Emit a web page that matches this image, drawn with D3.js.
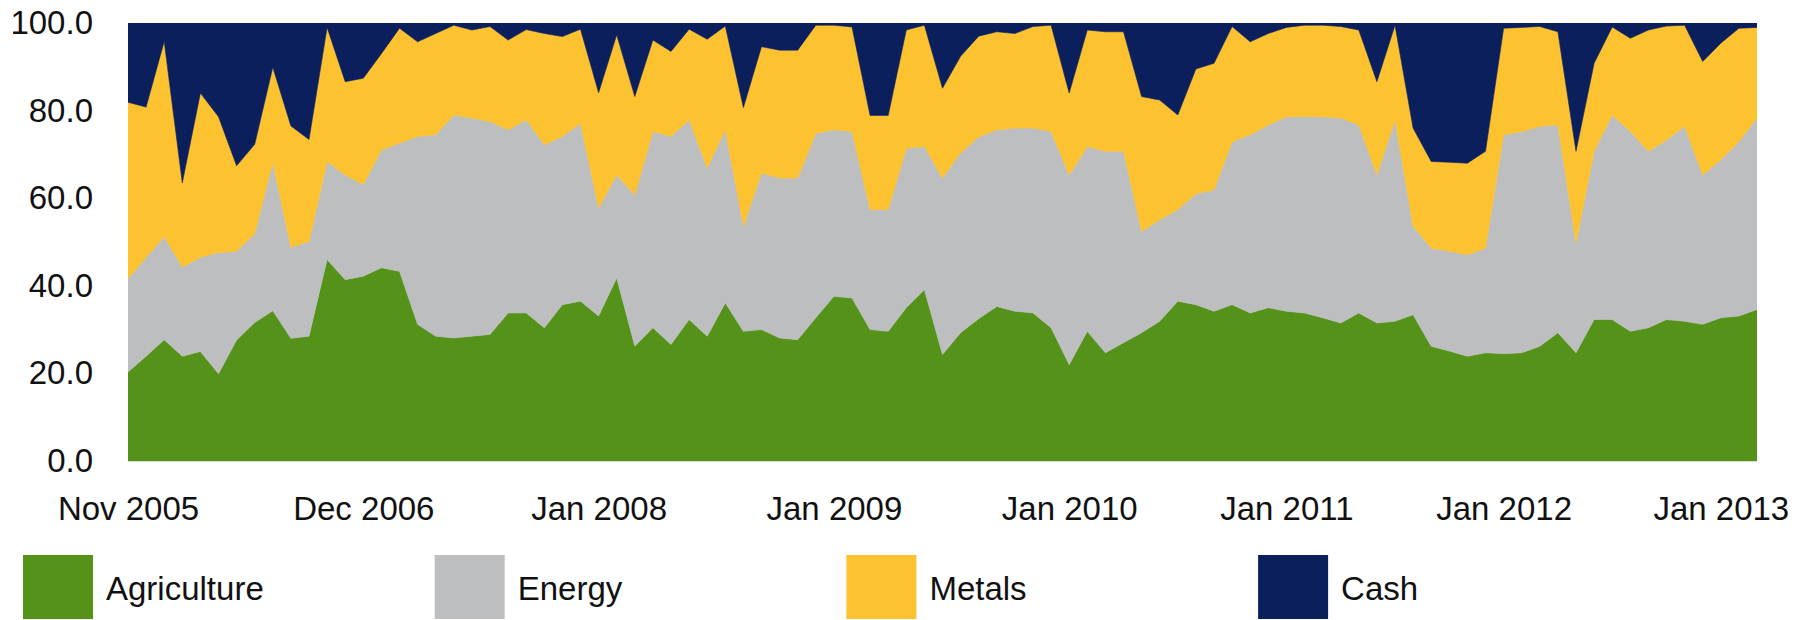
<!DOCTYPE html>
<html>
<head>
<meta charset="utf-8">
<script src="https://cdn.jsdelivr.net/npm/d3@7"></script>
<style>
  html, body { margin: 0; padding: 0; background: #ffffff; }
  svg { display: block; }
  text { font-family: "Liberation Sans", Arial, sans-serif; fill: #111111; }
</style>
</head>
<body>
<svg id="chart" width="1813" height="620"></svg>
<script>
// ---- Data (percent allocation) ----
const seriesNames = ["Agriculture", "Energy", "Metals", "Cash"];

const agriculture = [20.3,23.9,27.7,23.9,25.0,19.9,27.6,31.6,34.3,28.0,28.5,46.0,41.4,42.2,44.1,43.3,31.2,28.5,28.1,28.5,
  28.9,33.8,33.8,30.4,35.7,36.5,33.1,41.8,26.2,30.4,26.6,32.3,28.5,36.1,29.6,30.0,28.1,27.7,32.7,37.6,
  37.2,30.0,29.6,35.0,39.1,24.3,29.3,32.5,35.3,34.2,33.8,30.4,22.0,29.6,24.7,27.0,29.3,31.9,36.5,35.7,
  34.2,35.7,33.8,35.0,34.2,33.8,32.7,31.5,33.8,31.5,31.9,33.4,26.2,25.1,23.9,24.7,24.5,24.7,26.2,29.3,
  24.7,32.3,32.3,29.6,30.4,32.3,31.9,31.2,32.7,33.1,34.6];

const energy = [21.3,22.6,23.5,20.4,21.5,27.7,20.3,20.3,33.9,20.8,21.6,22.4,23.9,20.9,26.9,29.3,42.9,46.0,50.9,49.8,
  48.6,41.8,44.1,41.8,38.4,40.6,24.7,23.5,34.6,44.8,47.5,45.6,38.4,39.5,24.0,35.7,36.5,36.9,42.1,38.0,
  38.0,27.4,27.8,36.4,32.7,40.3,41.0,41.5,40.3,41.8,42.2,44.8,43.3,42.2,46.0,43.7,23.1,23.2,20.9,25.3,
  27.7,37.2,40.7,41.7,44.4,44.8,45.9,46.8,42.9,33.8,46.0,20.2,22.4,22.8,23.2,23.9,50.0,50.5,50.2,47.4,
  25.1,38.4,46.7,45.6,40.3,41.0,44.5,34.1,36.1,39.8,43.7];

const metals = [40.3,34.3,44.6,19.2,37.5,31.0,19.5,20.4,21.7,27.7,23.3,30.6,21.3,24.3,22.0,26.2,21.6,23.1,20.5,20.1,
  21.7,20.5,20.6,25.4,22.8,21.5,26.3,32.0,22.4,20.9,19.4,20.7,29.4,23.7,27.1,28.9,29.2,29.2,24.7,23.9,
  23.9,21.5,21.5,27.0,27.7,20.5,22.1,23.0,22.4,21.6,23.2,24.3,18.7,26.6,27.3,27.3,30.8,27.3,21.6,28.5,
  28.9,26.3,21.2,20.9,20.4,20.9,20.9,20.9,21.7,21.3,21.6,22.4,19.8,20.3,20.9,22.1,24.3,23.8,22.8,21.3,
  20.9,20.1,20.1,21.3,27.7,26.0,23.1,25.9,26.6,25.9,20.7];

const cash = [18.1,19.2,4.2,36.5,16.0,21.4,32.6,27.7,10.1,23.5,26.6,1.0,13.4,12.6,7.0,1.2,4.3,2.4,0.5,1.6,
  0.8,3.9,1.5,2.4,3.1,1.4,15.9,2.7,16.8,3.9,6.5,1.4,3.7,0.7,19.3,5.4,6.2,6.2,0.5,0.5,
  0.9,21.1,21.1,1.6,0.5,14.9,7.6,3.0,2.0,2.4,0.8,0.5,16.0,1.6,2.0,2.0,16.8,17.6,21.0,10.5,
  9.2,0.8,4.3,2.4,1.0,0.5,0.5,0.8,1.6,13.4,0.5,24.0,31.6,31.8,32.0,29.3,1.2,1.0,0.8,2.0,
  29.3,9.2,0.9,3.5,1.6,0.7,0.5,8.8,4.6,1.2,1.0];

// x-axis labels and the observation index each one sits on
const tickLabels = ["Nov 2005", "Dec 2006", "Jan 2008", "Jan 2009", "Jan 2010", "Jan 2011", "Jan 2012", "Jan 2013"];
const tickIndex  = [0, 13, 26, 39, 52, 64, 76, 88];
const yTicks = [0, 20, 40, 60, 80, 100];

// ---- Styles / layout ----
const colors = { Agriculture: "#55921a", Energy: "#bcbec0", Metals: "#fcc230", Cash: "#0b1f5c" };
const margin = { left: 128, right: 56, top: 23, bottom: 159 };
const W = 1813, H = 620;
const plotW = W - margin.left - margin.right;
const plotH = H - margin.top - margin.bottom;
const fontSize = 33;

const rows = agriculture.map((v, i) => ({
  i: i, Agriculture: v, Energy: energy[i], Metals: metals[i], Cash: cash[i]
}));

const svg = d3.select("#chart");

const x = d3.scaleLinear().domain([0, agriculture.length - 1]).range([margin.left, margin.left + plotW]);
const y = d3.scaleLinear().domain([0, 100]).range([margin.top + plotH, margin.top]);

const stack = d3.stack().keys(seriesNames);
const layers = stack(rows);

svg.append("clipPath").attr("id", "plotclip")
  .append("rect")
  .attr("x", margin.left).attr("y", margin.top)
  .attr("width", plotW).attr("height", plotH);

const area = d3.area()
  .x(d => x(d.data.i))
  .y0(d => y(d[0]))
  .y1(d => y(Math.min(100, d[1])));

// Cash fills to the top of the plot
const areaTop = d3.area()
  .x(d => x(d.data.i))
  .y0(d => y(d[0]))
  .y1(() => y(100));

const g = svg.append("g").attr("clip-path", "url(#plotclip)");
g.selectAll("path.layer")
  .data(layers)
  .join("path")
  .attr("class", "layer")
  .attr("fill", d => colors[d.key])
  .attr("stroke", d => colors[d.key])
  .attr("stroke-width", 0.6)
  .attr("d", d => d.key === "Cash" ? areaTop(d) : area(d));

// baseline
svg.append("line")
  .attr("x1", margin.left).attr("x2", margin.left + plotW)
  .attr("y1", y(0) + 0.5).attr("y2", y(0) + 0.5)
  .attr("stroke", "#d9d9d9").attr("stroke-width", 1);

// Y axis
const yAxis = d3.axisLeft(y).tickValues(yTicks).tickFormat(d3.format(".1f")).tickSize(0).tickPadding(35);
const gy = svg.append("g").attr("transform", `translate(${margin.left},0)`).call(yAxis);
gy.select(".domain").remove();
gy.selectAll("text").style("font-size", fontSize + "px").style("fill", "#111");

// X axis
const xAxis = d3.axisBottom(x).tickValues(tickIndex)
  .tickFormat((d, k) => tickLabels[k]).tickSize(0).tickPadding(36);
const gx = svg.append("g").attr("transform", `translate(0,${y(0)})`).call(xAxis);
gx.select(".domain").remove();
gx.selectAll("text").style("font-size", fontSize + "px").style("fill", "#111");

// Legend
const legendX0 = 23, legendStep = 411.7, legendY = 555, sw = 70, sh = 64;
const leg = svg.append("g");
seriesNames.forEach((name, k) => {
  const lx = legendX0 + k * legendStep;
  leg.append("rect").attr("x", lx).attr("y", legendY).attr("width", sw).attr("height", sh)
    .attr("fill", colors[name]);
  leg.append("text").attr("x", lx + 83).attr("y", legendY + 33)
    .attr("dy", "0.35em")
    .style("font-size", fontSize + "px")
    .text(name);
});
</script>
</body>
</html>
